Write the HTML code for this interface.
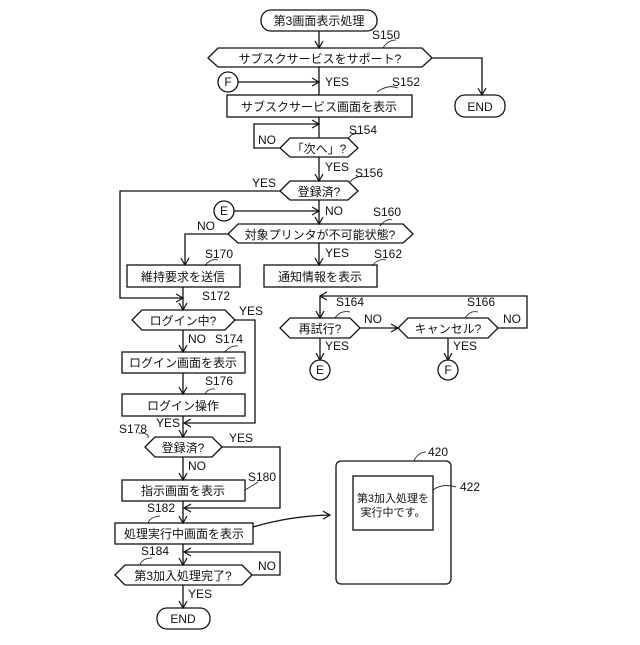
<!DOCTYPE html>
<html><head><meta charset="utf-8"><style>
html,body{margin:0;padding:0;background:#fff}
text{font-family:"Liberation Sans","Noto Sans CJK JP",sans-serif;font-size:12px;fill:#111}
.c{text-anchor:middle}
</style></head><body>
<svg width="640" height="640" viewBox="0 0 640 640" xmlns="http://www.w3.org/2000/svg">
<defs><marker id="a" markerWidth="10" markerHeight="10" refX="8" refY="5" orient="auto" markerUnits="userSpaceOnUse"><path d="M1,1 L8,5 L1,9" fill="none" stroke="#111" stroke-width="1.2"/></marker></defs>
<g stroke="#111" stroke-width="1.3" fill="none">
<rect x="261" y="10" width="116" height="21" rx="10"/>
<rect x="455" y="95" width="50" height="22" rx="10"/>
<rect x="157" y="608" width="53" height="21" rx="10"/>
<polygon points="208,58 218,48 422,48 432,58 422,67 218,67"/>
<polygon points="280,148 290,138 348,138 358,148 348,157 290,157"/>
<polygon points="280,191 290,181 348,181 358,191 348,200 290,200"/>
<polygon points="228,234 238,224 403,224 413,234 403,243 238,243"/>
<polygon points="280,328 290,318 350,318 360,328 350,338 290,338"/>
<polygon points="398,328 408,318 488,318 498,328 488,338 408,338"/>
<polygon points="132,320 142,310 225,310 235,320 225,330 142,330"/>
<polygon points="145,447 155,437 212,437 222,447 212,457 155,457"/>
<polygon points="115,575 125,565 242,565 252,575 242,585 125,585"/>
<rect x="227" y="95" width="185" height="22"/>
<rect x="127" y="265" width="113" height="22"/>
<rect x="264" y="265" width="113" height="22"/>
<rect x="122" y="352" width="123" height="21"/>
<rect x="122" y="394" width="123" height="22"/>
<rect x="122" y="480" width="123" height="21"/>
<rect x="115" y="523" width="138" height="21"/>
<circle cx="228" cy="82" r="10"/><circle cx="224" cy="211" r="10"/>
<circle cx="320" cy="370" r="10"/><circle cx="448" cy="370" r="10"/>
<path d="M319,31 V48" marker-end="url(#a)"/>
<path d="M432,58 H482 V95" marker-end="url(#a)"/>
<path d="M319,67 V95"/>
<path d="M238,82 H319" marker-end="url(#a)"/>
<path d="M319,117 V138" />
<path d="M280,148 H254 V124 H319" marker-end="url(#a)"/>
<path d="M319,157 V181" marker-end="url(#a)"/>
<path d="M319,200 V224" marker-end="url(#a)"/>
<path d="M234,211 H319" marker-end="url(#a)"/>
<path d="M280,191 H120 V298 H183" marker-end="url(#a)"/>
<path d="M228,234 H185 V265" marker-end="url(#a)"/>
<path d="M319,243 V265" marker-end="url(#a)"/>
<path d="M183,287 V310" marker-end="url(#a)"/>
<path d="M498,328 H527 V296 H320" marker-end="url(#a)"/>
<path d="M320,296 V318" marker-end="url(#a)"/>
<path d="M360,328 H398" marker-end="url(#a)"/>
<path d="M320,338 V360" marker-end="url(#a)"/>
<path d="M448,338 V360" marker-end="url(#a)"/>
<path d="M183,330 V352" marker-end="url(#a)"/>
<path d="M183,373 V394" marker-end="url(#a)"/>
<path d="M235,320 H255 V423 H184" marker-end="url(#a)"/>
<path d="M183,416 V437" marker-end="url(#a)"/>
<path d="M183,457 V480" marker-end="url(#a)"/>
<path d="M222,447 H280 V508 H184" marker-end="url(#a)"/>
<path d="M183,501 V523" marker-end="url(#a)"/>
<path d="M183,544 V565" marker-end="url(#a)"/>
<path d="M252,575 H280 V552 H184" marker-end="url(#a)"/>
<path d="M183,585 V608" marker-end="url(#a)"/>
<path d="M253,527 Q290,516 330,515" marker-end="url(#a)"/>
<rect x="336" y="461" width="115" height="123" rx="5"/>
<rect x="353" y="476" width="80" height="54"/>
<path d="M414,461 Q418,452 426,452" stroke-width="0.8"/>
<path d="M433,490 Q442,483 456,487" stroke-width="0.8"/>
<path d="M383,48 Q388,40 396,40" stroke-width="0.8"/>
<path d="M377,92 Q388,84 398,88" stroke-width="0.8"/>
<path d="M348,139 Q352,132 360,134" stroke-width="0.8"/>
<path d="M350,182 Q356,175 364,177" stroke-width="0.8"/>
<path d="M380,226 Q386,218 392,220" stroke-width="0.8"/>
<path d="M205,266 Q210,258 218,260" stroke-width="0.8"/>
<path d="M372,266 Q378,258 386,260" stroke-width="0.8"/>
<path d="M335,318 Q340,310 350,312" stroke-width="0.8"/>
<path d="M465,318 Q470,310 478,312" stroke-width="0.8"/>
<path d="M225,352 Q230,345 238,346" stroke-width="0.8"/>
<path d="M205,394 Q208,388 215,389" stroke-width="0.8"/>
<path d="M148,438 Q150,433 138,433" stroke-width="0.8"/>
<path d="M245,490 Q252,486 258,482" stroke-width="0.8"/>
<path d="M148,523 Q150,517 160,516" stroke-width="0.8"/>
<path d="M140,565 Q142,558 152,558" stroke-width="0.8"/>
</g>
<text class="c" x="319" y="25">第3画面表示処理</text>
<text class="c" x="320" y="63">サブスクサービスをサポート?</text>
<text class="c" x="480" y="111">END</text>
<text class="c" x="183" y="623">END</text>
<text class="c" x="319" y="111">サブスクサービス画面を表示</text>
<text class="c" x="319" y="153">「次へ」?</text>
<text class="c" x="319" y="196">登録済?</text>
<text class="c" x="320" y="239">対象プリンタが不可能状態?</text>
<text class="c" x="183" y="281">維持要求を送信</text>
<text class="c" x="320" y="281">通知情報を表示</text>
<text class="c" x="320" y="333">再試行?</text>
<text class="c" x="448" y="333">キャンセル?</text>
<text class="c" x="183" y="325">ログイン中?</text>
<text class="c" x="183" y="367">ログイン画面を表示</text>
<text class="c" x="183" y="410">ログイン操作</text>
<text class="c" x="183" y="452">登録済?</text>
<text class="c" x="183" y="495">指示画面を表示</text>
<text class="c" x="184" y="538">処理実行中画面を表示</text>
<text class="c" x="183" y="580">第3加入処理完了?</text>
<text class="c" x="228" y="86">F</text><text class="c" x="224" y="215">E</text>
<text class="c" x="320" y="374">E</text><text class="c" x="448" y="374">F</text>
<text class="c" x="393" y="502" style="font-size:11px">第3加入処理を</text>
<text class="c" x="393" y="516" style="font-size:11px">実行中です。</text>
<g style="font-size:11px">
<text x="372" y="39">S150</text><text x="392" y="86">S152</text><text x="349" y="134">S154</text>
<text x="355" y="177">S156</text><text x="373" y="216">S160</text><text x="205" y="258">S170</text>
<text x="374" y="258">S162</text><text x="202" y="300">S172</text><text x="336" y="306">S164</text>
<text x="467" y="306">S166</text><text x="215" y="343">S174</text><text x="205" y="385">S176</text>
<text x="119" y="433">S178</text><text x="248" y="481">S180</text><text x="147" y="512">S182</text>
<text x="141" y="555">S184</text><text x="428" y="456">420</text><text x="460" y="491">422</text>
<text x="325" y="86">YES</text><text x="258" y="144">NO</text><text x="325" y="171">YES</text>
<text x="252" y="187">YES</text><text x="325" y="215">NO</text><text x="197" y="230">NO</text>
<text x="325" y="257">YES</text><text x="364" y="323">NO</text><text x="503" y="323">NO</text>
<text x="325" y="350">YES</text><text x="453" y="350">YES</text><text x="239" y="315">YES</text>
<text x="188" y="343">NO</text><text x="156" y="427">YES</text><text x="229" y="442">YES</text>
<text x="188" y="470">NO</text><text x="258" y="570">NO</text><text x="188" y="598">YES</text>
</g>
</svg>
</body></html>
